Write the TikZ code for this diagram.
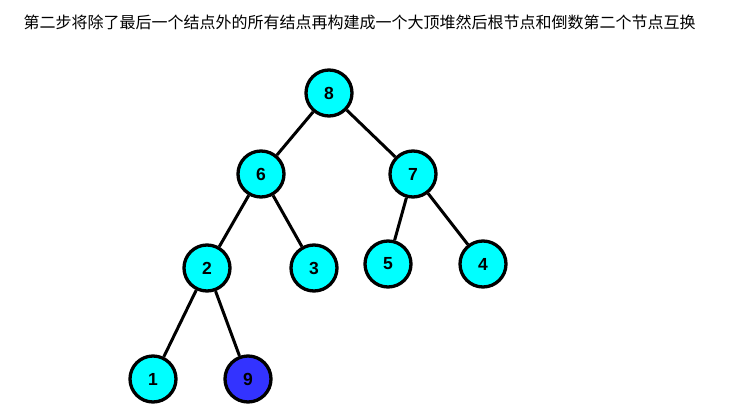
\documentclass[tikz,border=0pt]{standalone}
\usepackage{fontspec}
\setmainfont{Liberation Sans}
\newfontfamily\cjk{Noto Sans CJK SC}
\usepackage{tikz}
\definecolor{heapcyan}{RGB}{0,255,255}
\definecolor{heapblue}{RGB}{51,51,255}

\begin{document}
\begin{tikzpicture}[x=1pt, y=-1pt]
  \begin{scope} [
    every node/.style={circle, draw=black, line width=3.3pt, minimum size=46pt, inner sep=0pt,
      font=\fontsize{17.5}{17.5}\selectfont\bfseries},
    heap/.style={fill=heapcyan},
    sorted/.style={fill=heapblue},
    edge/.style={line width=3pt, black}]
    \useasboundingbox (0,0) rectangle (735,412);
    %% *** Title ***
    \node [draw=none, rectangle, minimum size=0pt, anchor=west,
      font=\cjk\fontsize{16}{16}\selectfont] (title) at (22,22)
      {第二步将除了最后一个结点外的所有结点再构建成一个大顶堆然后根节点和倒数第二个节点互换};
    %% *** Tree ***
    \node [heap] (n8) at (329,93) {8};
    \node [heap] (n6) at (261,174) {6};
    \node [heap] (n7) at (413,174) {7};
    \node [heap] (n2) at (207,268) {2};
    \node [heap] (n3) at (314,268) {3};
    \node [heap] (n5) at (388,264) {5};
    \node [heap] (n4) at (483,264) {4};
    \node [heap] (n1) at (153,379) {1};
    \node [sorted] (n9) at (248,379) {9};
    %% *** Edges ***
    \draw [edge] (n8) -- (n6);
    \draw [edge] (n8) -- (n7);
    \draw [edge] (n6) -- (n2);
    \draw [edge] (n6) -- (n3);
    \draw [edge] (n7) -- (n5);
    \draw [edge] (n7) -- (n4);
    \draw [edge] (n2) -- (n1);
    \draw [edge] (n2) -- (n9);
  \end{scope}
\end{tikzpicture}
\end{document}
